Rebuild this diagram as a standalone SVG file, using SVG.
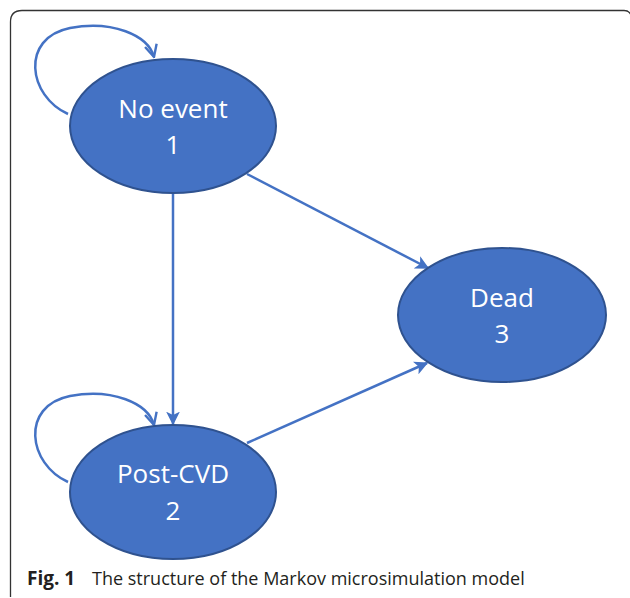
<svg xmlns="http://www.w3.org/2000/svg" width="630" height="598" viewBox="0 0 630 598">
<style>
.node{fill:#4472C4;stroke:#2F528F;stroke-width:2}
.lbl{font-family:"Open Sans","Noto Sans",sans-serif;font-size:26px;fill:#ffffff;text-anchor:middle}
.conn{fill:none;stroke:#4472C4;stroke-width:2.5}
.cap{font-family:"Open Sans","Noto Sans",sans-serif;font-size:19px;fill:#231f20}
</style>
<defs>
<marker id="tri" viewBox="0 0 10 10" refX="9" refY="5" markerWidth="5.5" markerHeight="5.5" orient="auto" markerUnits="strokeWidth">
<path d="M0,0 L10,5 L0,10 L2.5,5 Z" fill="#4472C4"/>
</marker>
<marker id="vee" viewBox="0 0 10 10" refX="9" refY="5" markerWidth="6" markerHeight="6" orient="auto" markerUnits="strokeWidth">
<path d="M1,1 L9,5 L1,9" fill="none" stroke="#4472C4" stroke-width="1.6"/>
</marker>
</defs>
<rect width="630" height="598" fill="#ffffff"/>
<path d="M10.5 597 L10.5 22 Q10.5 10.5 22 10.5 L624 10.5 Q629 10.5 631 15" fill="none" stroke="#333" stroke-width="1.3"/>
<g id="connectors">
<path class="conn" d="M68 114 C28 96 20 38 70 28 C112 20 148 35 154 57" marker-end="url(#vee)"/>
<path class="conn" d="M68 482 C28 464 20 406 70 396 C112 388 148 403 154 425" marker-end="url(#vee)"/>
<path class="conn" d="M173 193 L173 424" marker-end="url(#tri)"/>
<path class="conn" d="M247 174 L428 268" marker-end="url(#tri)"/>
<path class="conn" d="M247 443 L427 363" marker-end="url(#tri)"/>
</g>
<g id="node1">
<ellipse class="node" cx="173" cy="126" rx="103" ry="67"/>
<text class="lbl" x="173" y="118">No event</text>
<text class="lbl" x="173" y="154">1</text>
</g>
<g id="node2">
<ellipse class="node" cx="173" cy="492" rx="103" ry="67"/>
<text class="lbl" x="173" y="483">Post-CVD</text>
<text class="lbl" x="173" y="520">2</text>
</g>
<g id="node3">
<ellipse class="node" cx="502" cy="315" rx="104" ry="67"/>
<text class="lbl" x="502" y="307">Dead</text>
<text class="lbl" x="502" y="343">3</text>
</g>
<g id="caption">
<text class="cap" x="27" y="585"><tspan font-weight="bold">Fig. 1</tspan><tspan x="92" font-size="18">The structure of the Markov microsimulation model</tspan></text>
</g>
</svg>
